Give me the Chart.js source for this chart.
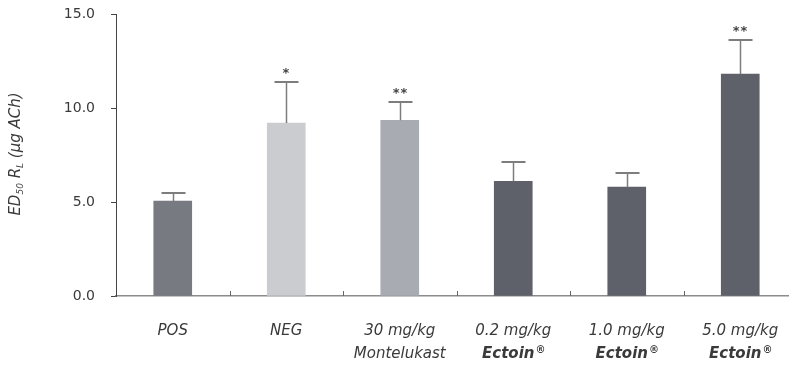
<!DOCTYPE html>
<html>
<head>
<meta charset="utf-8">
<script src="https://cdn.jsdelivr.net/npm/chart.js@4.4.1/dist/chart.umd.min.js"></script>
<style>
  html, body { margin: 0; padding: 0; background: #fff; overflow: hidden; }
  #wrap { width: 800px; height: 365px; }
</style>
</head>
<body>
<div id="wrap"><canvas id="bar-chart" width="800" height="365"></canvas></div>
<script>
// data
var groups = ["POS", "NEG", "Montelukast", "Ectoin 0.2", "Ectoin 1.0", "Ectoin 5.0"];
var labelTop = ["POS", "NEG", "30 mg/kg", "0.2 mg/kg", "1.0 mg/kg", "5.0 mg/kg"];
var labelBottom = ["", "", "Montelukast", "Ectoin®", "Ectoin®", "Ectoin®"];
var ed50 = [5.05, 9.2, 9.35, 6.1, 5.8, 11.8];
var errUp = [0.45, 2.2, 0.95, 1.05, 0.75, 1.8];
var stars = ["", "*", "**", "", "", "**"];
var yTicks = [0, 5, 10, 15];
var barColors = ["#787a82", "#cbccd0", "#a9abb2", "#5e6169", "#5e6169", "#5e6169"];

var FONT = "'DejaVu Sans', sans-serif";

var extras = {
	id: 'extras',
	afterDatasetsDraw: function(chart) {
		var ctx = chart.ctx;
		var x = chart.scales.x, y = chart.scales.y;
		ctx.save();
		// error bars + stars
		for (var i = 0; i < ed50.length; i++) {
			var cx = Math.round(x.getPixelForValue(i)) + 0.5;
			var y0 = y.getPixelForValue(ed50[i]);
			var y1 = Math.round(y.getPixelForValue(ed50[i] + errUp[i]));
			ctx.strokeStyle = "#7d7d7d";
			ctx.lineWidth = 1.5;
			ctx.beginPath();
			ctx.moveTo(cx, y0);
			ctx.lineTo(cx, y1);
			ctx.stroke();
			ctx.lineWidth = 2;
			ctx.beginPath();
			ctx.moveTo(cx - 12, y1);
			ctx.lineTo(cx + 12, y1);
			ctx.stroke();
			if (stars[i]) {
				ctx.fillStyle = "#444";
				ctx.font = "bold 13px " + FONT;
				ctx.letterSpacing = "1px";
				ctx.textAlign = "center";
				ctx.textBaseline = "alphabetic";
				ctx.fillText(stars[i], cx, y1 - 5);
				ctx.letterSpacing = "0px";
			}
		}
		// small upward ticks between categories
		ctx.strokeStyle = "#666";
		ctx.lineWidth = 1;
		var base = y.getPixelForValue(0);
		for (var k = 0; k < ed50.length - 1; k++) {
			var bx = Math.round((x.getPixelForValue(k) + x.getPixelForValue(k + 1)) / 2) + 0.5;
			ctx.beginPath();
			ctx.moveTo(bx, base);
			ctx.lineTo(bx, base - 5);
			ctx.stroke();
		}
		// category labels
		ctx.fillStyle = "#3a3a3a";
		ctx.textAlign = "center";
		ctx.textBaseline = "middle";
		for (var j = 0; j < labelTop.length; j++) {
			var lx = x.getPixelForValue(j);
			ctx.font = "italic 15px " + FONT;
			ctx.fillText(labelTop[j], lx, 331);
			if (labelBottom[j]) {
				if (labelBottom[j].indexOf("Ectoin") === 0) {
					ctx.font = "italic bold 15px " + FONT;
					var w1 = ctx.measureText("Ectoin").width;
					ctx.font = "bold 10px " + FONT;
					var w2 = ctx.measureText("®").width;
					var sx = lx - (w1 + w2) / 2;
					ctx.textAlign = "left";
					ctx.font = "italic bold 15px " + FONT;
					ctx.fillText("Ectoin", sx, 354);
					ctx.font = "bold 10px " + FONT;
					ctx.fillText("®", sx + w1 + 1, 350);
					ctx.textAlign = "center";
				} else {
					ctx.font = "italic 15px " + FONT;
					ctx.fillText(labelBottom[j], lx, 354);
				}
			}
		}
		// y axis title with subscripts
		var parts = [
			["ED", "italic 15px " + FONT, 0],
			["50", "italic 9px " + FONT, 5],
			[" R", "italic 15px " + FONT, 0],
			["L", "italic 9px " + FONT, 5],
			[" (µg ACh)", "italic 15px " + FONT, 0]
		];
		var total = 0;
		parts.forEach(function(p) { ctx.font = p[1]; total += ctx.measureText(p[0]).width; });
		ctx.translate(16, 154);
		ctx.rotate(-Math.PI / 2);
		ctx.textAlign = "left";
		ctx.textBaseline = "middle";
		var px = -total / 2;
		parts.forEach(function(p) {
			ctx.font = p[1];
			ctx.fillText(p[0], px, p[2]);
			px += ctx.measureText(p[0]).width;
		});
		ctx.restore();
	}
};

var grafic = document.getElementById("bar-chart").getContext("2d");

var myBarChart = new Chart(grafic, {
	type: 'bar',
	data: {
		labels: groups,
		datasets: [{
			data: ed50,
			backgroundColor: barColors,
			barThickness: 38
		}]
	},
	options: {
		responsive: false,
		animation: false,
		layout: { padding: { left: 0, right: 3, top: 14, bottom: 0 } },
		plugins: {
			legend: { display: false },
			tooltip: { enabled: false }
		},
		scales: {
			x: {
				grid: { display: false },
				border: { display: true, color: "#8c8c8c", width: 1.5 },
				ticks: { display: false },
				afterFit: function(scale) { scale.height = 69; }
			},
			y: {
				min: 0,
				max: 15,
				afterBuildTicks: function(scale) {
					scale.ticks = yTicks.map(function(v) { return { value: v }; });
				},
				grid: { drawOnChartArea: false, tickLength: 5, color: "#444", lineWidth: 1 },
				border: { display: true, color: "#444", width: 1 },
				ticks: {
					padding: 16,
					color: "#3a3a3a",
					font: { family: FONT, size: 14 },
					callback: function(v) { return v.toFixed(1); }
				},
				afterFit: function(scale) {
					scale.width = 116;
					scale.paddingTop = 0;
					scale.paddingBottom = 0;
				}
			}
		}
	},
	plugins: [extras]
});
</script>
</body>
</html>
